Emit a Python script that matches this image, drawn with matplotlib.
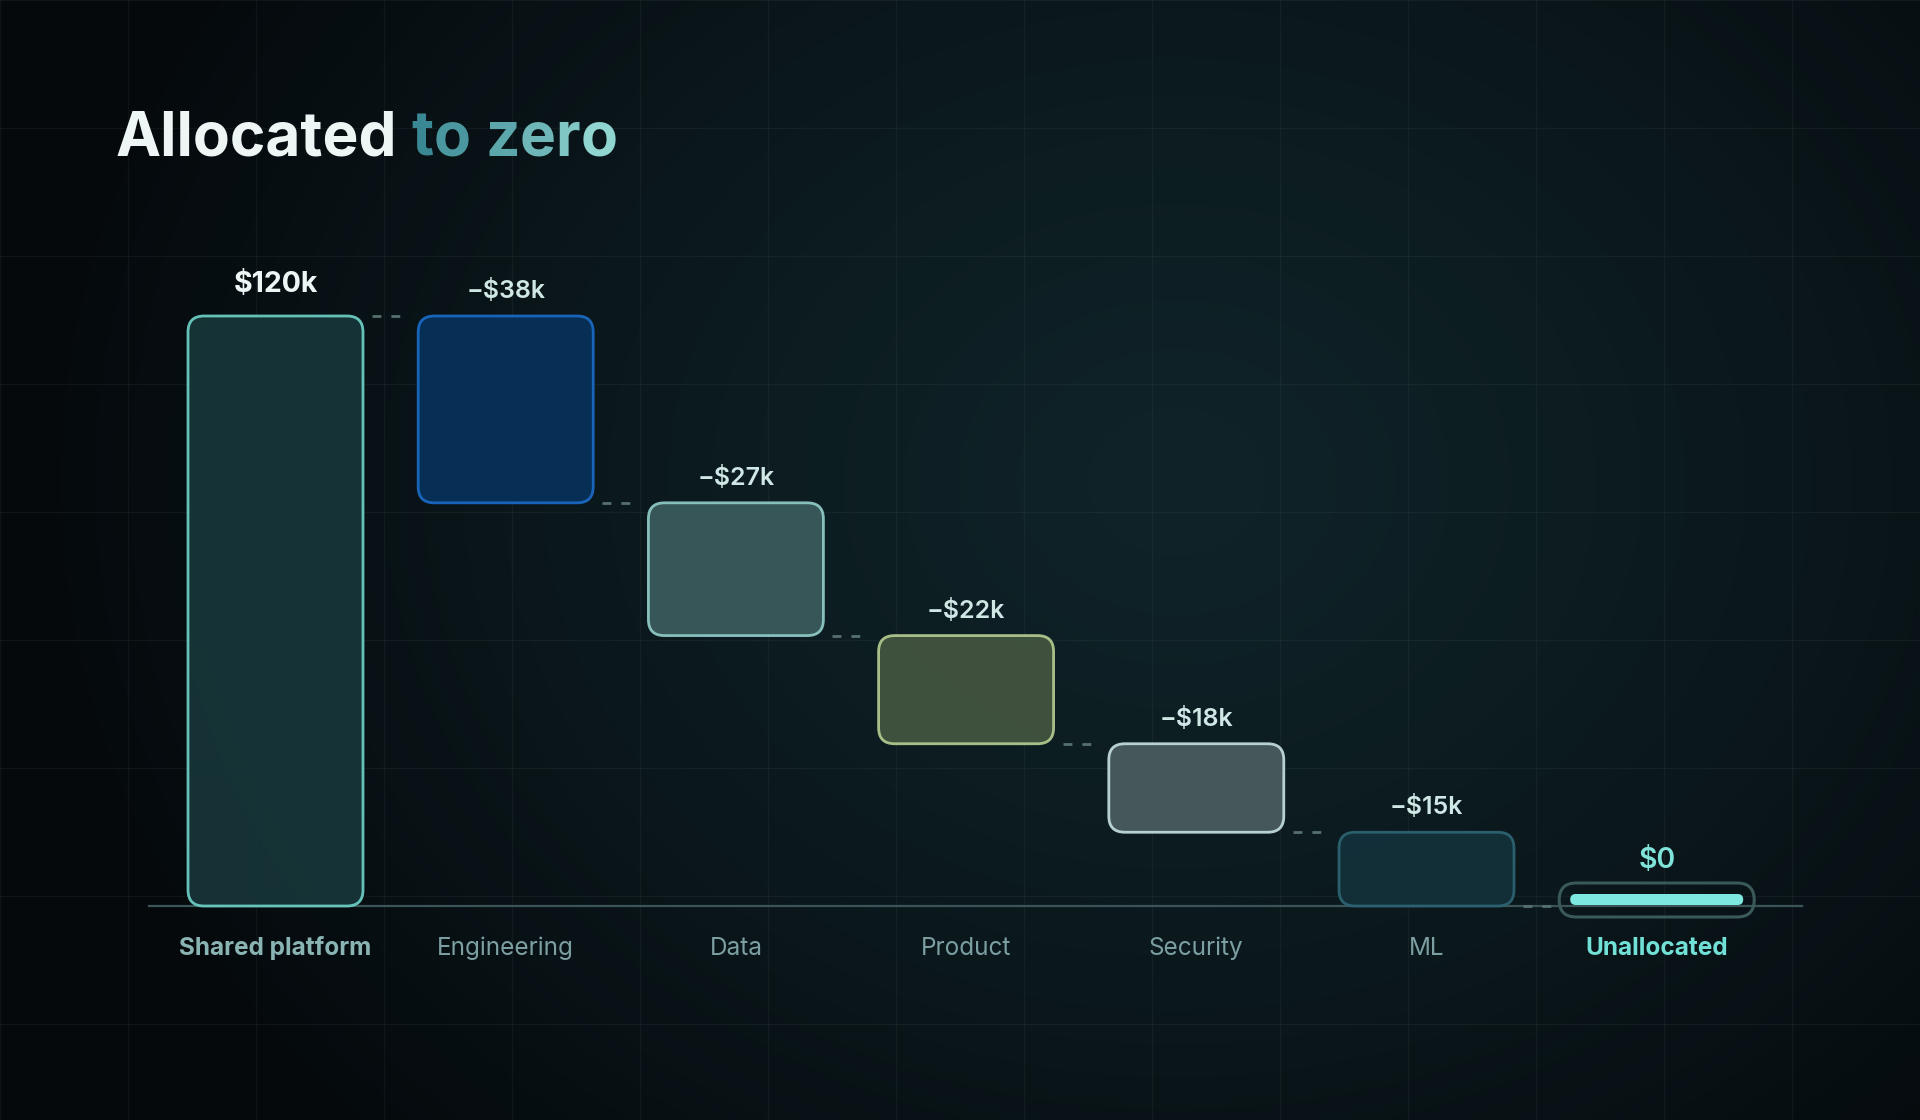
import numpy as np
import matplotlib.pyplot as plt
from matplotlib.patches import FancyBboxPatch
from matplotlib.colors import to_rgb

plt.rcParams['font.family'] = ['Inter', 'DejaVu Sans']

# Data ($k)
categories = ['Shared platform', 'Engineering', 'Data', 'Product', 'Security', 'ML', 'Unallocated']
changes = [120, -38, -27, -22, -18, -15]
final_total = 0

face_colors = ['#173539', '#07315a', '#3b5b5c', '#43563f', '#4a5c5e', '#13303a']
edge_colors = ['#6ccfc4', '#1a6ac4', '#8fcac6', '#b3c98f', '#c3dcdc', '#2d6472']

W, H = 1920, 1120
fig = plt.figure(figsize=(W / 100, H / 100), dpi=100)

# Background: radial glow + faint grid
bg = fig.add_axes([0, 0, 1, 1], zorder=0)
bg.set_axis_off()
yy, xx = np.mgrid[0:H:4, 0:W:4]
r = np.sqrt((xx - 1175) ** 2 + ((yy - 480) * 1.2) ** 2) / 1150
r = np.clip(r, 0, 1) ** 1.3
c0, c1 = np.array(to_rgb('#0f2328')), np.array(to_rgb('#05090c'))
img = c0[None, None, :] * (1 - r[..., None]) + c1[None, None, :] * r[..., None]
bg.imshow(img, extent=[0, W, H, 0], aspect='auto', interpolation='bilinear')
bg.set_xlim(0, W)
bg.set_ylim(H, 0)
for gx in range(0, W + 1, 128):
    bg.axvline(gx, color='white', alpha=0.045, lw=1)
for gy in range(0, H + 1, 128):
    bg.axhline(gy, color='white', alpha=0.045, lw=1)

# Chart axes: x in category index, y in $k
ax = fig.add_axes([160.4 / W, (H - 906) / H, 1611.4 / W, 590 / H], zorder=1)
ax.set_xlim(-0.5, 6.5)
ax.set_ylim(0, 120)
ax.set_axis_off()

px_x = 1611.4 / 7      # pixels per category unit
px_y = 590 / 120       # pixels per $k
asp = px_x / px_y
bar_w = 175 / px_x

ax.plot([-0.55, 6.63], [0, 0], color='#3a5457', lw=1.6, zorder=1, clip_on=False)

totals = np.cumsum(changes)
prev = np.concatenate([[0], totals[:-1]])
for i, ch in enumerate(changes):
    bottom = min(prev[i], totals[i])
    top = max(prev[i], totals[i])
    p = FancyBboxPatch((i - bar_w / 2, bottom), bar_w, top - bottom,
                       boxstyle=f'round,pad=0,rounding_size={16 / px_x}',
                       mutation_aspect=asp, facecolor=face_colors[i],
                       edgecolor=edge_colors[i], lw=2, alpha=0.93, zorder=3,
                       clip_on=False)
    ax.add_patch(p)
    if ch > 0:
        lab, col, fs, fw, off = f'${ch}k', '#eef6f5', 20.5, 'bold', 22.7
    else:
        lab, col, fs, fw, off = f'\u2212${abs(ch)}k', '#cfe7e5', 18, 'semibold', 18
    ax.annotate(lab, (i, top), xytext=(0, off), textcoords='offset points',
                ha='center', va='center', fontsize=fs, fontweight=fw, color=col)
    # dashed connector to the next column
    x0 = i + bar_w / 2 + 9 / px_x
    ax.plot([x0, x0 + 30 / px_x], [totals[i], totals[i]], color='#566f70',
            lw=2, ls=(0, (3.2, 3.6)), zorder=2, clip_on=False)

# Unallocated marker
n = len(changes)
pill = FancyBboxPatch((n - 195 / px_x / 2, final_total - 11 / px_y), 195 / px_x, 34 / px_y,
                      boxstyle=f'round,pad=0,rounding_size={17 / px_x}',
                      mutation_aspect=asp, facecolor='none', edgecolor='#3a5a5a',
                      lw=2.2, zorder=3, clip_on=False)
ax.add_patch(pill)
mark = FancyBboxPatch((n - 173 / px_x / 2, final_total + 1 / px_y), 173 / px_x, 11 / px_y,
                      boxstyle=f'round,pad=0,rounding_size={5.5 / px_x}',
                      mutation_aspect=asp, facecolor='#7de8df', edgecolor='none', zorder=4,
                      clip_on=False)
ax.add_patch(mark)
ax.annotate(f'${final_total}', (n, final_total), xytext=(0, 32.5), textcoords='offset points',
            ha='center', va='center', fontsize=20.5, fontweight='semibold', color='#7fe3d9')

# Category labels
for i, name in enumerate(categories):
    if i == 0:
        col, fw = '#8ab4b3', 'bold'
    elif i == len(categories) - 1:
        col, fw = '#71e0d6', 'bold'
    else:
        col, fw = '#7c9fa2', 'normal'
    ax.annotate(name, (i, 0), xytext=(0, -30.6), textcoords='offset points',
                ha='center', va='center', fontsize=17.5, fontweight=fw, color=col)

# Title with gradient on "to zero"
title = 'Allocated to zero'
tx, ty = 116 / W, 1 - 155.7 / H
tkw = dict(fontsize=43.5, fontweight='bold', va='baseline')
fig.canvas.draw()
rend = fig.canvas.get_renderer()


def text_w(s):
    t = fig.text(tx, ty, s, ha='left', **tkw)
    w = t.get_window_extent(rend).width
    t.remove()
    return w


fig.text(tx, ty, 'Allocated', ha='left', color='#eef6f5', **tkw)
g0, g1 = np.array(to_rgb('#3a8893')), np.array(to_rgb('#90d5d0'))
idx = [k for k in range(10, len(title)) if title[k] != ' ']
for j, k in enumerate(idx):
    f = j / (len(idx) - 1)
    xr = tx + text_w(title[:k + 1]) / W
    fig.text(xr, ty, title[k], ha='right', color=tuple(g0 * (1 - f) + g1 * f), **tkw)

fig.savefig('out.png', dpi=100)
